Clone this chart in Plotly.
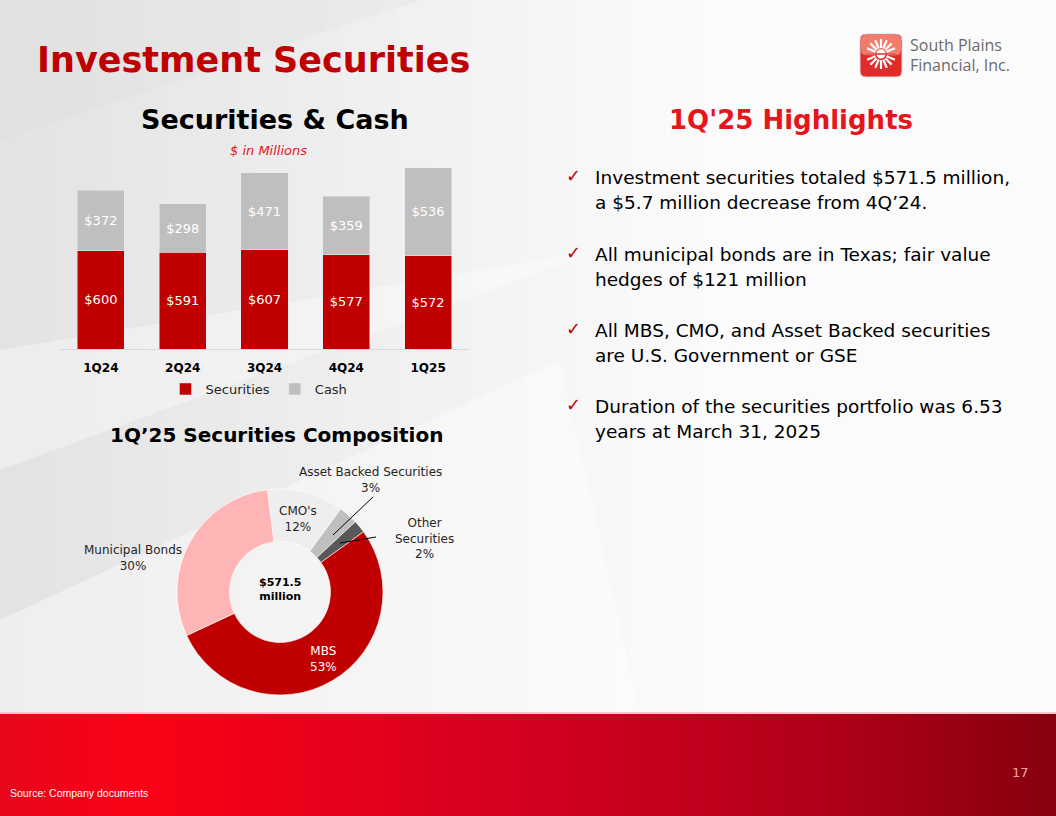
import numpy as np
import plotly.graph_objects as go

# page size of the slide picture
W, H = 1056, 816


def px(x):
    return x / W


def py(y):
    return 1 - y / H


def mix(c1, c2, t):
    a = [int(c1[i:i + 2], 16) for i in (1, 3, 5)]
    b = [int(c2[i:i + 2], 16) for i in (1, 3, 5)]
    return "rgb(%d,%d,%d)" % tuple(round(a[k] + (b[k] - a[k]) * t) for k in range(3))


# ---- data ----
quarters = ["1Q24", "2Q24", "3Q24", "4Q24", "1Q25"]
securities = [600, 591, 607, 577, 572]
cash = [372, 298, 471, 359, 536]

comp_labels = ["CMO's", "Asset Backed Securities", "Other Securities", "MBS", "Municipal Bonds"]
comp_pct = [12, 3, 2, 53, 30]
comp_colors = ["#EEEEEE", "#BFBFBF", "#595959", "#C00000", "#FFB5B5"]

bullets = [
    ["Investment securities totaled $571.5 million,", "a $5.7 million decrease from 4Q’24."],
    ["All municipal bonds are in Texas; fair value", "hedges of $121 million"],
    ["All MBS, CMO, and Asset Backed securities", "are U.S. Government or GSE"],
    ["Duration of the securities portfolio was 6.53", "years at March 31, 2025"],
]

FONT = "DejaVu Sans"
RED = "#C00000"

fig = go.Figure()

fig.add_trace(go.Bar(
    x=quarters, y=securities, name="Securities", marker_color=RED,
    texttemplate="$%{y}", textposition="inside", insidetextanchor="middle",
    textangle=0, textfont=dict(color="white", size=13, family=FONT),
    hoverinfo="skip",
))
fig.add_trace(go.Bar(
    x=quarters, y=cash, name="Cash", marker_color="#BFBFBF",
    texttemplate="$%{y}", textposition="inside", insidetextanchor="middle",
    textangle=0, textfont=dict(color="white", size=13, family=FONT),
    hoverinfo="skip",
))

fig.add_trace(go.Pie(
    labels=comp_labels, values=comp_pct, sort=False, direction="clockwise",
    rotation=-7, hole=0.49, textinfo="none", showlegend=False,
    marker=dict(colors=comp_colors, line=dict(color="white", width=0.6)),
    domain=dict(x=[px(177), px(383)], y=[py(695), py(489)]),
))

shapes = []

# background: light grey fading to white, with soft diagonal facets
n = 40
for i in range(n):
    x0 = 720 * i / n
    x1 = 720 * (i + 1) / n + 1
    shapes.append(dict(type="rect", xref="paper", yref="paper", layer="below",
                       x0=px(x0), x1=px(x1), y0=py(713), y1=1,
                       fillcolor=mix("#E3E3E3", "#FBFBFB", i / (n - 1)), line_width=0))
shapes.append(dict(type="rect", xref="paper", yref="paper", layer="below",
                   x0=px(719), x1=1, y0=py(713), y1=1, fillcolor="#FBFBFB", line_width=0))
facets = [
    ("M {},{} L {},{} L {},{} Z".format(px(0), py(470), px(600), py(250), px(0), py(350)), "white", 0.35),
    ("M {},{} L {},{} L {},{} L {},{} Z".format(px(0), py(713), px(0), py(620), px(560), py(360), px(640), py(713)), "white", 0.4),
    ("M {},{} L {},{} L {},{} Z".format(px(0), py(0), px(420), py(0), px(0), py(140)), "#DADADA", 0.25),
]
for path, col, op in facets:
    shapes.append(dict(type="path", path=path, xref="paper", yref="paper", layer="below",
                       fillcolor=col, opacity=op, line_width=0))

# footer band with red gradient
stops = [(0.0, "#E8061C"), (0.12, "#FA0216"), (0.5, "#D40020"), (0.78, "#B10019"), (1.0, "#88000F")]
m = 80
for i in range(m):
    t = i / (m - 1)
    for (t0, c0), (t1, c1) in zip(stops[:-1], stops[1:]):
        if t0 <= t <= t1:
            col = mix(c0, c1, (t - t0) / (t1 - t0))
            break
    shapes.append(dict(type="rect", xref="paper", yref="paper", layer="below",
                       x0=px(W * i / m), x1=px(W * (i + 1) / m + 1), y0=0, y1=py(714),
                       fillcolor=col, line_width=0))
shapes.append(dict(type="line", xref="paper", yref="paper", layer="below",
                   x0=0, x1=1, y0=py(713), y1=py(713), line=dict(color="#F6C8CC", width=2)))


# logo badge
def rrect(x0, y0, x1, y1, r):
    return ("M {a},{b} L {c},{b} Q {x1},{b} {x1},{d} L {x1},{e} Q {x1},{y1} {c},{y1} "
            "L {a},{y1} Q {x0},{y1} {x0},{e} L {x0},{d} Q {x0},{b} {a},{b} Z").format(
        a=px(x0 + r), b=py(y0), c=px(x1 - r), d=py(y0 + r), e=py(y1 - r),
        x0=px(x0), x1=px(x1), y1=py(y1))


shapes.append(dict(type="path", path=rrect(860, 34, 902, 77, 6), xref="paper", yref="paper",
                   fillcolor="#E12B2B", line=dict(color="#D8D8D8", width=1)))
shapes.append(dict(type="path", path=rrect(861, 35, 901, 55, 5), xref="paper", yref="paper",
                   fillcolor="#F27C6C", line_width=0))
cx, cy = 881, 54
for a in np.linspace(0, 2 * np.pi, 16, endpoint=False):
    shapes.append(dict(type="line", xref="paper", yref="paper",
                       x0=px(cx + 6 * np.sin(a)), y0=py(cy - 6 * np.cos(a)),
                       x1=px(cx + 15 * np.sin(a)), y1=py(cy - 15 * np.cos(a)),
                       line=dict(color="white", width=2.2)))
shapes.append(dict(type="circle", xref="paper", yref="paper",
                   x0=px(cx - 4.5), x1=px(cx + 4.5), y0=py(cy + 4.5), y1=py(cy - 4.5),
                   fillcolor="white", line_width=0))
shapes.append(dict(type="line", xref="paper", yref="paper",
                   x0=px(cx - 15), x1=px(cx + 15), y0=py(cy), y1=py(cy),
                   line=dict(color="#E12B2B", width=1.5)))

# leader lines of the donut labels
shapes.append(dict(type="line", xref="paper", yref="paper", x0=px(373), y0=py(497),
                   x1=px(333), y1=py(535), line=dict(color="black", width=1)))
shapes.append(dict(type="line", xref="paper", yref="paper", x0=px(376), y0=py(537),
                   x1=px(340), y1=py(543), line=dict(color="black", width=1)))

ann = []


def note(text, x, y, size, color="black", xanchor="center", family=FONT):
    ann.append(dict(text=text, x=px(x), y=py(y), xref="paper", yref="paper",
                    xanchor=xanchor, yanchor="middle", showarrow=False,
                    font=dict(size=size, color=color, family=family)))


note("<b>Investment Securities</b>", 35, 60, 35, RED, "left")
note("South Plains", 908, 45, 16, "#6B6B6B", "left", "Open Sans")
note("Financial, Inc.", 908, 65, 16, "#6B6B6B", "left", "Open Sans")
note("<b>Securities & Cash</b>", 275, 119, 27)
note("<i>$ in Millions</i>", 268, 150, 13, "#E8141C")
note("<b>1Q'25 Highlights</b>", 791, 120, 26, "#E8141C")
note("<b>1Q’25 Securities Composition</b>", 276, 435, 20)

for (l1, l2), y in zip(bullets, [177, 254, 330, 406]):
    note("✓", 573, y - 2, 18, RED)
    note(l1, 593, y, 18.5, "black", "left")
    note(l2, 593, y + 25, 18.5, "black", "left")

note("Asset Backed Securities<br>3%", 370, 480, 12, "#262626")
note("CMO's<br>12%", 298, 519, 12, "#262626")
note("Other<br>Securities<br>2%", 424, 538, 12, "#262626")
note("Municipal Bonds<br>30%", 133, 558, 12, "#262626")
note("MBS<br>53%", 323, 659, 12, "white")
note("<b>$571.5<br>million</b>", 280, 589, 11)

note("17", 1020, 772, 13, "#F3A6AE")
note("Source: Company documents", 8, 793, 10.5, "white", "left", "Liberation Sans")

fig.update_layout(
    width=W, height=H, autosize=False,
    margin=dict(l=0, r=0, t=0, b=0),
    paper_bgcolor="white", plot_bgcolor="rgba(0,0,0,0)",
    font=dict(family=FONT, color="black"),
    barmode="stack", bargap=0.425,
    xaxis=dict(domain=[px(60), px(469)], showline=True, linecolor="#D9D9D9", linewidth=1,
               ticks="", showgrid=False, zeroline=False, ticklabelstandoff=8,
               tickfont=dict(size=12, color="black", family=FONT, weight="bold")),
    yaxis=dict(domain=[py(349), py(161.1)], range=[0, 1150], visible=False, fixedrange=True),
    showlegend=True,
    legend=dict(orientation="h", x=px(259), xanchor="center", y=py(389), yanchor="middle",
                font=dict(size=13, color="#262626", family=FONT), bgcolor="rgba(0,0,0,0)",
                itemwidth=30, traceorder="normal"),
    shapes=shapes, annotations=ann,
)

# drop the page margin so the figure sits at the window's top-left corner
fig.write_html("out.html", config={"displayModeBar": False},
               post_script="document.body.style.margin='0';"
                           "document.body.style.overflow='hidden';")
